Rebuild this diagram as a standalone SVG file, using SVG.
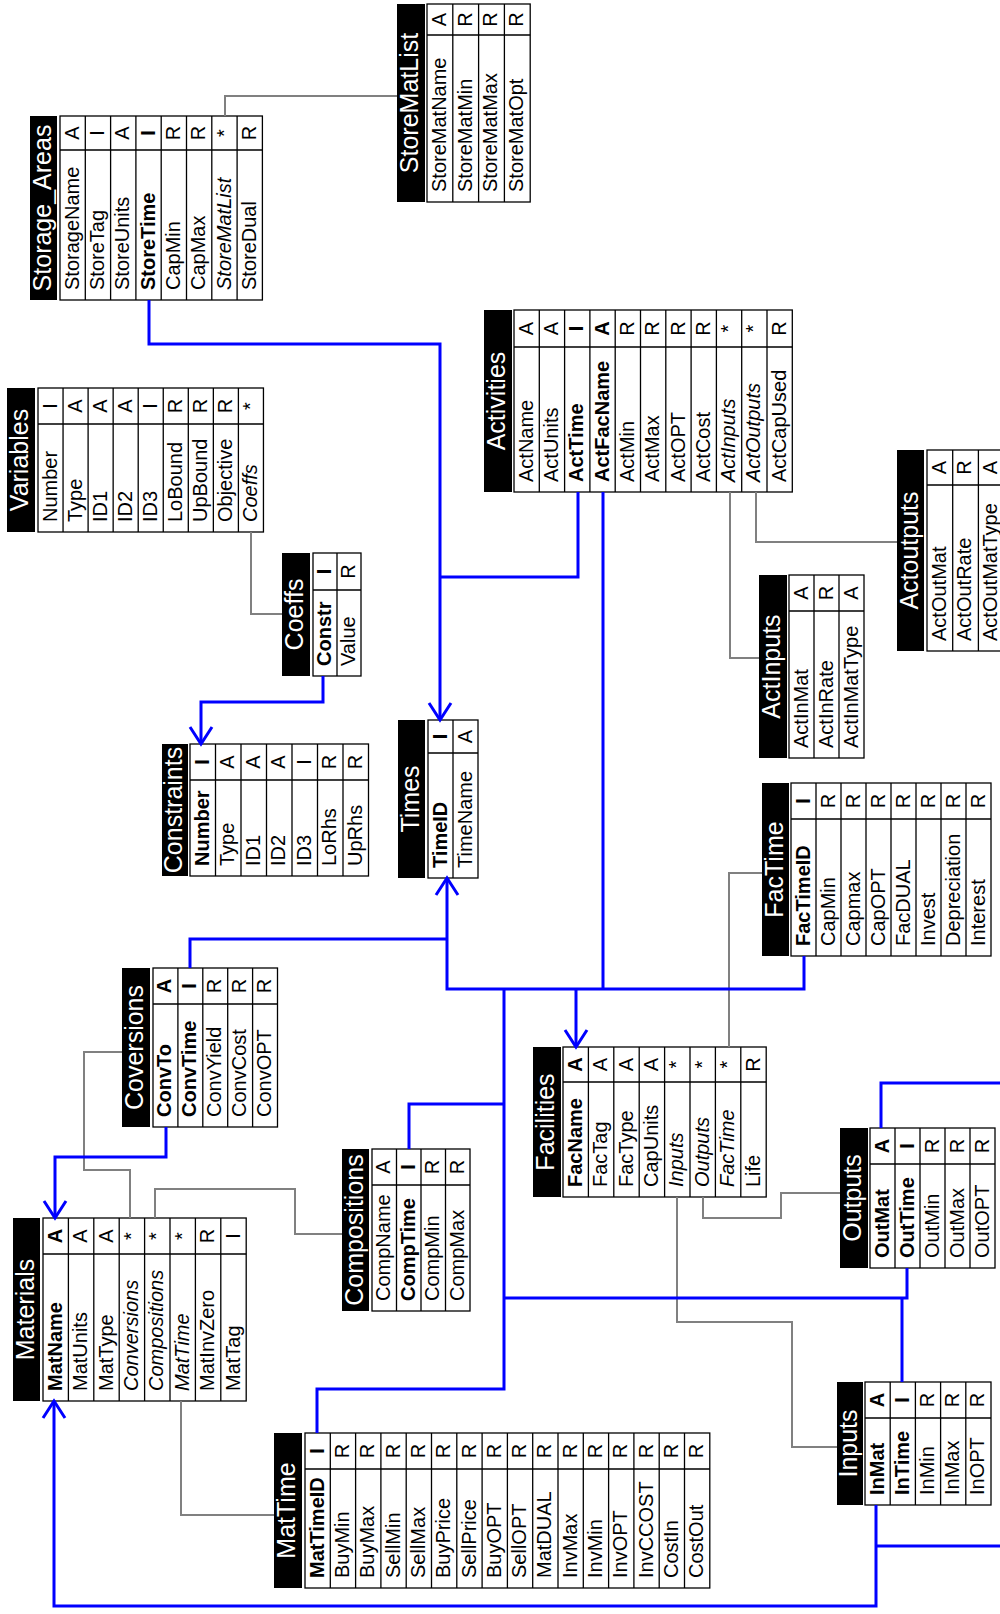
<svg xmlns="http://www.w3.org/2000/svg" width="1000" height="1614" viewBox="0 0 1000 1614">
<style>
text{font-family:"Liberation Sans",Arial,sans-serif;fill:#000}
.hd{fill:#000}
.ht{fill:#fff;font-size:25px;text-anchor:middle}
.bd{fill:#fff;stroke:#000;stroke-width:1.3}
.ln{fill:none;stroke:#000;stroke-width:1.3}
.n{font-size:20px}
.t{font-size:20px;text-anchor:middle}
.k{font-weight:bold}
.i{font-style:italic}
.bl{fill:none;stroke:#0000ff;stroke-width:3}
.gr{fill:none;stroke:#808080;stroke-width:2}
</style>
<defs>
<marker id="ah" viewBox="-20 -13 23 26" refX="0" refY="0" markerWidth="23" markerHeight="26" markerUnits="userSpaceOnUse" orient="auto-start-reverse"><path d="M-17,-11 L0,0 L-17,11" fill="none" stroke="#0000ff" stroke-width="3"/></marker>
</defs>
<rect width="1000" height="1614" fill="#fff"/>

<g id="storage_areas" transform="translate(30,300) rotate(-90)">
<rect class="hd" width="184" height="27"/>
<text class="ht" x="92" y="20.5">Storage_Areas</text>
<rect class="bd" y="30" width="184" height="202.4"/>
<path class="ln" d="M0,55.3H184M0,80.6H184M0,105.9H184M0,131.2H184M0,156.5H184M0,181.8H184M0,207.1H184M150,30V232.4"/>
<text class="n" x="10" y="48.7">StorageName</text><text class="t" x="167" y="48.7">A</text>
<text class="n" x="10" y="74">StoreTag</text><text class="t" x="167" y="74">I</text>
<text class="n" x="10" y="99.3">StoreUnits</text><text class="t" x="167" y="99.3">A</text>
<text class="n k" x="10" y="124.6">StoreTime</text><text class="t k" x="167" y="124.6">I</text>
<text class="n" x="10" y="149.9">CapMin</text><text class="t" x="167" y="149.9">R</text>
<text class="n" x="10" y="175.2">CapMax</text><text class="t" x="167" y="175.2">R</text>
<text class="n i" x="10" y="200.5">StoreMatList</text><text class="t" x="167" y="200.5">*</text>
<text class="n" x="10" y="225.8">StoreDual</text><text class="t" x="167" y="225.8">R</text>
</g>

<g id="storematlist" transform="translate(397,202) rotate(-90)">
<rect class="hd" width="198" height="28"/>
<text class="ht" x="99" y="21">StoreMatList</text>
<rect class="bd" y="30" width="198" height="103.2"/>
<path class="ln" d="M0,55.8H198M0,81.6H198M0,107.4H198M167,30V133.2"/>
<text class="n" x="10" y="48.7">StoreMatName</text><text class="t" x="182.5" y="48.7">A</text>
<text class="n" x="10" y="74.5">StoreMatMin</text><text class="t" x="182.5" y="74.5">R</text>
<text class="n" x="10" y="100.3">StoreMatMax</text><text class="t" x="182.5" y="100.3">R</text>
<text class="n" x="10" y="126.1">StoreMatOpt</text><text class="t" x="182.5" y="126.1">R</text>
</g>

<g id="variables" transform="translate(7,532) rotate(-90)">
<rect class="hd" width="144" height="28"/>
<text class="ht" x="72" y="21">Variables</text>
<rect class="bd" y="31" width="144" height="225.45"/>
<path class="ln" d="M0,56.05H144M0,81.1H144M0,106.15H144M0,131.2H144M0,156.25H144M0,181.3H144M0,206.35H144M0,231.4H144M108,31V256.45"/>
<text class="n" x="10" y="49.7">Number</text><text class="t" x="126" y="49.7">I</text>
<text class="n" x="10" y="74.75">Type</text><text class="t" x="126" y="74.75">A</text>
<text class="n" x="10" y="99.8">ID1</text><text class="t" x="126" y="99.8">A</text>
<text class="n" x="10" y="124.85">ID2</text><text class="t" x="126" y="124.85">A</text>
<text class="n" x="10" y="149.9">ID3</text><text class="t" x="126" y="149.9">I</text>
<text class="n" x="10" y="174.95">LoBound</text><text class="t" x="126" y="174.95">R</text>
<text class="n" x="10" y="200">UpBound</text><text class="t" x="126" y="200">R</text>
<text class="n" x="10" y="225.05">Objective</text><text class="t" x="126" y="225.05">R</text>
<text class="n i" x="10" y="250.1">Coeffs</text><text class="t" x="126" y="250.1">*</text>
</g>

<g id="coeffs" transform="translate(282,676) rotate(-90)">
<rect class="hd" width="123" height="28"/>
<text class="ht" x="61.5" y="21">Coeffs</text>
<rect class="bd" y="31" width="123" height="48"/>
<path class="ln" d="M0,55H123M86,31V79"/>
<text class="n k" x="10" y="48.8">Constr</text><text class="t k" x="104.5" y="48.8">I</text>
<text class="n" x="10" y="72.8">Value</text><text class="t" x="104.5" y="72.8">R</text>
</g>

<g id="constraints" transform="translate(162,876) rotate(-90)">
<rect class="hd" width="132" height="26"/>
<text class="ht" x="66" y="19.5">Constraints</text>
<rect class="bd" y="28" width="132" height="178.5"/>
<path class="ln" d="M0,53.5H132M0,79H132M0,104.5H132M0,130H132M0,155.5H132M0,181H132M96,28V206.5"/>
<text class="n k" x="10" y="46.9">Number</text><text class="t k" x="114" y="46.9">I</text>
<text class="n" x="10" y="72.4">Type</text><text class="t" x="114" y="72.4">A</text>
<text class="n" x="10" y="97.9">ID1</text><text class="t" x="114" y="97.9">A</text>
<text class="n" x="10" y="123.4">ID2</text><text class="t" x="114" y="123.4">A</text>
<text class="n" x="10" y="148.9">ID3</text><text class="t" x="114" y="148.9">I</text>
<text class="n" x="10" y="174.4">LoRhs</text><text class="t" x="114" y="174.4">R</text>
<text class="n" x="10" y="199.9">UpRhs</text><text class="t" x="114" y="199.9">R</text>
</g>

<g id="activities" transform="translate(484,492) rotate(-90)">
<rect class="hd" width="182" height="28"/>
<text class="ht" x="91" y="21">Activities</text>
<rect class="bd" y="30" width="182" height="278.3"/>
<path class="ln" d="M0,55.3H182M0,80.6H182M0,105.9H182M0,131.2H182M0,156.5H182M0,181.8H182M0,207.1H182M0,232.4H182M0,257.7H182M0,283H182M145,30V308.3"/>
<text class="n" x="10" y="48.7">ActName</text><text class="t" x="163.5" y="48.7">A</text>
<text class="n" x="10" y="74">ActUnits</text><text class="t" x="163.5" y="74">A</text>
<text class="n k" x="10" y="99.3">ActTime</text><text class="t k" x="163.5" y="99.3">I</text>
<text class="n k" x="10" y="124.6">ActFacName</text><text class="t k" x="163.5" y="124.6">A</text>
<text class="n" x="10" y="149.9">ActMin</text><text class="t" x="163.5" y="149.9">R</text>
<text class="n" x="10" y="175.2">ActMax</text><text class="t" x="163.5" y="175.2">R</text>
<text class="n" x="10" y="200.5">ActOPT</text><text class="t" x="163.5" y="200.5">R</text>
<text class="n" x="10" y="225.8">ActCost</text><text class="t" x="163.5" y="225.8">R</text>
<text class="n i" x="10" y="251.1">ActInputs</text><text class="t" x="163.5" y="251.1">*</text>
<text class="n i" x="10" y="276.4">ActOutputs</text><text class="t" x="163.5" y="276.4">*</text>
<text class="n" x="10" y="301.7">ActCapUsed</text><text class="t" x="163.5" y="301.7">R</text>
</g>

<g id="actinputs" transform="translate(759,758) rotate(-90)">
<rect class="hd" width="183" height="28"/>
<text class="ht" x="91.5" y="21">ActInputs</text>
<rect class="bd" y="30" width="183" height="75"/>
<path class="ln" d="M0,55H183M0,80H183M147,30V105"/>
<text class="n" x="10" y="48.5">ActInMat</text><text class="t" x="165" y="48.5">A</text>
<text class="n" x="10" y="73.5">ActInRate</text><text class="t" x="165" y="73.5">R</text>
<text class="n" x="10" y="98.5">ActInMatType</text><text class="t" x="165" y="98.5">A</text>
</g>

<g id="actoutputs" transform="translate(897,651) rotate(-90)">
<rect class="hd" width="201" height="27"/>
<text class="ht" x="100.5" y="20.5">Actoutputs</text>
<rect class="bd" y="30" width="201" height="77.1"/>
<path class="ln" d="M0,55.7H201M0,81.4H201M166,30V107.1"/>
<text class="n" x="10" y="48.7">ActOutMat</text><text class="t" x="183.5" y="48.7">A</text>
<text class="n" x="10" y="74.4">ActOutRate</text><text class="t" x="183.5" y="74.4">R</text>
<text class="n" x="10" y="100.1">ActOutMatType</text><text class="t" x="183.5" y="100.1">A</text>
</g>

<g id="times" transform="translate(398,878) rotate(-90)">
<rect class="hd" width="158" height="27"/>
<text class="ht" x="79" y="20.5">Times</text>
<rect class="bd" y="30" width="158" height="50"/>
<path class="ln" d="M0,55H158M125,30V80"/>
<text class="n k" x="10" y="48.5">TimeID</text><text class="t k" x="141.5" y="48.5">I</text>
<text class="n" x="10" y="73.5">TimeName</text><text class="t" x="141.5" y="73.5">A</text>
</g>

<g id="factime" transform="translate(762,956) rotate(-90)">
<rect class="hd" width="173" height="27"/>
<text class="ht" x="86.5" y="20.5">FacTime</text>
<rect class="bd" y="29" width="173" height="200"/>
<path class="ln" d="M0,54H173M0,79H173M0,104H173M0,129H173M0,154H173M0,179H173M0,204H173M137,29V229"/>
<text class="n k" x="10" y="47.5">FacTimeID</text><text class="t k" x="155" y="47.5">I</text>
<text class="n" x="10" y="72.5">CapMin</text><text class="t" x="155" y="72.5">R</text>
<text class="n" x="10" y="97.5">Capmax</text><text class="t" x="155" y="97.5">R</text>
<text class="n" x="10" y="122.5">CapOPT</text><text class="t" x="155" y="122.5">R</text>
<text class="n" x="10" y="147.5">FacDUAL</text><text class="t" x="155" y="147.5">R</text>
<text class="n" x="10" y="172.5">Invest</text><text class="t" x="155" y="172.5">R</text>
<text class="n" x="10" y="197.5">Depreciation</text><text class="t" x="155" y="197.5">R</text>
<text class="n" x="10" y="222.5">Interest</text><text class="t" x="155" y="222.5">R</text>
</g>

<g id="coversions" transform="translate(122,1127) rotate(-90)">
<rect class="hd" width="159" height="28"/>
<text class="ht" x="79.5" y="21">Coversions</text>
<rect class="bd" y="31" width="159" height="124.5"/>
<path class="ln" d="M0,55.9H159M0,80.8H159M0,105.7H159M0,130.6H159M123,31V155.5"/>
<text class="n k" x="10" y="49.4">ConvTo</text><text class="t k" x="141" y="49.4">A</text>
<text class="n k" x="10" y="74.3">ConvTime</text><text class="t k" x="141" y="74.3">I</text>
<text class="n" x="10" y="99.2">ConvYield</text><text class="t" x="141" y="99.2">R</text>
<text class="n" x="10" y="124.1">ConvCost</text><text class="t" x="141" y="124.1">R</text>
<text class="n" x="10" y="149">ConvOPT</text><text class="t" x="141" y="149">R</text>
</g>

<g id="compositions" transform="translate(342,1311) rotate(-90)">
<rect class="hd" width="162" height="27"/>
<text class="ht" x="81" y="20.5">Compositions</text>
<rect class="bd" y="30" width="162" height="98"/>
<path class="ln" d="M0,54.5H162M0,79H162M0,103.5H162M126,30V128"/>
<text class="n" x="10" y="48.2">CompName</text><text class="t" x="144" y="48.2">A</text>
<text class="n k" x="10" y="72.7">CompTime</text><text class="t k" x="144" y="72.7">I</text>
<text class="n" x="10" y="97.2">CompMin</text><text class="t" x="144" y="97.2">R</text>
<text class="n" x="10" y="121.7">CompMax</text><text class="t" x="144" y="121.7">R</text>
</g>

<g id="materials" transform="translate(13,1401) rotate(-90)">
<rect class="hd" width="183" height="27"/>
<text class="ht" x="91.5" y="20.5">Materials</text>
<rect class="bd" y="30" width="183" height="203.2"/>
<path class="ln" d="M0,55.4H183M0,80.8H183M0,106.2H183M0,131.6H183M0,157H183M0,182.4H183M0,207.8H183M147,30V233.2"/>
<text class="n k" x="10" y="48.8">MatName</text><text class="t k" x="165" y="48.8">A</text>
<text class="n" x="10" y="74.2">MatUnits</text><text class="t" x="165" y="74.2">A</text>
<text class="n" x="10" y="99.6">MatType</text><text class="t" x="165" y="99.6">A</text>
<text class="n i" x="10" y="125">Conversions</text><text class="t" x="165" y="125">*</text>
<text class="n i" x="10" y="150.4">Compositions</text><text class="t" x="165" y="150.4">*</text>
<text class="n i" x="10" y="175.8">MatTime</text><text class="t" x="165" y="175.8">*</text>
<text class="n" x="10" y="201.2">MatInvZero</text><text class="t" x="165" y="201.2">R</text>
<text class="n" x="10" y="226.6">MatTag</text><text class="t" x="165" y="226.6">I</text>
</g>

<g id="facilities" transform="translate(533,1197) rotate(-90)">
<rect class="hd" width="150" height="28"/>
<text class="ht" x="75" y="21">Facilities</text>
<rect class="bd" y="30" width="150" height="203.2"/>
<path class="ln" d="M0,55.4H150M0,80.8H150M0,106.2H150M0,131.6H150M0,157H150M0,182.4H150M0,207.8H150M115,30V233.2"/>
<text class="n k" x="10" y="48.8">FacName</text><text class="t k" x="132.5" y="48.8">A</text>
<text class="n" x="10" y="74.2">FacTag</text><text class="t" x="132.5" y="74.2">A</text>
<text class="n" x="10" y="99.6">FacType</text><text class="t" x="132.5" y="99.6">A</text>
<text class="n" x="10" y="125">CapUnits</text><text class="t" x="132.5" y="125">A</text>
<text class="n i" x="10" y="150.4">Inputs</text><text class="t" x="132.5" y="150.4">*</text>
<text class="n i" x="10" y="175.8">Outputs</text><text class="t" x="132.5" y="175.8">*</text>
<text class="n i" x="10" y="201.2">FacTime</text><text class="t" x="132.5" y="201.2">*</text>
<text class="n" x="10" y="226.6">Life</text><text class="t" x="132.5" y="226.6">R</text>
</g>

<g id="outputs" transform="translate(840,1268) rotate(-90)">
<rect class="hd" width="140" height="28"/>
<text class="ht" x="70" y="21">Outputs</text>
<rect class="bd" y="30" width="140" height="125"/>
<path class="ln" d="M0,55H140M0,80H140M0,105H140M0,130H140M104,30V155"/>
<text class="n k" x="10" y="48.5">OutMat</text><text class="t k" x="122" y="48.5">A</text>
<text class="n k" x="10" y="73.5">OutTime</text><text class="t k" x="122" y="73.5">I</text>
<text class="n" x="10" y="98.5">OutMin</text><text class="t" x="122" y="98.5">R</text>
<text class="n" x="10" y="123.5">OutMax</text><text class="t" x="122" y="123.5">R</text>
<text class="n" x="10" y="148.5">OutOPT</text><text class="t" x="122" y="148.5">R</text>
</g>

<g id="inputs" transform="translate(837,1505) rotate(-90)">
<rect class="hd" width="123" height="26"/>
<text class="ht" x="61.5" y="19.5">Inputs</text>
<rect class="bd" y="28" width="123" height="126"/>
<path class="ln" d="M0,53.2H123M0,78.4H123M0,103.6H123M0,128.8H123M87,28V154"/>
<text class="n k" x="10" y="46.6">InMat</text><text class="t k" x="105" y="46.6">A</text>
<text class="n k" x="10" y="71.8">InTime</text><text class="t k" x="105" y="71.8">I</text>
<text class="n" x="10" y="97">InMin</text><text class="t" x="105" y="97">R</text>
<text class="n" x="10" y="122.2">InMax</text><text class="t" x="105" y="122.2">R</text>
<text class="n" x="10" y="147.4">InOPT</text><text class="t" x="105" y="147.4">R</text>
</g>

<g id="mattime" transform="translate(274,1588) rotate(-90)">
<rect class="hd" width="155" height="28"/>
<text class="ht" x="77.5" y="21">MatTime</text>
<rect class="bd" y="31" width="155" height="404.8"/>
<path class="ln" d="M0,56.3H155M0,81.6H155M0,106.9H155M0,132.2H155M0,157.5H155M0,182.8H155M0,208.1H155M0,233.4H155M0,258.7H155M0,284H155M0,309.3H155M0,334.6H155M0,359.9H155M0,385.2H155M0,410.5H155M119,31V435.8"/>
<text class="n k" x="10" y="49.7">MatTimeID</text><text class="t k" x="137" y="49.7">I</text>
<text class="n" x="10" y="75">BuyMin</text><text class="t" x="137" y="75">R</text>
<text class="n" x="10" y="100.3">BuyMax</text><text class="t" x="137" y="100.3">R</text>
<text class="n" x="10" y="125.6">SellMin</text><text class="t" x="137" y="125.6">R</text>
<text class="n" x="10" y="150.9">SellMax</text><text class="t" x="137" y="150.9">R</text>
<text class="n" x="10" y="176.2">BuyPrice</text><text class="t" x="137" y="176.2">R</text>
<text class="n" x="10" y="201.5">SellPrice</text><text class="t" x="137" y="201.5">R</text>
<text class="n" x="10" y="226.8">BuyOPT</text><text class="t" x="137" y="226.8">R</text>
<text class="n" x="10" y="252.1">SellOPT</text><text class="t" x="137" y="252.1">R</text>
<text class="n" x="10" y="277.4">MatDUAL</text><text class="t" x="137" y="277.4">R</text>
<text class="n" x="10" y="302.7">InvMax</text><text class="t" x="137" y="302.7">R</text>
<text class="n" x="10" y="328">InvMin</text><text class="t" x="137" y="328">R</text>
<text class="n" x="10" y="353.3">InvOPT</text><text class="t" x="137" y="353.3">R</text>
<text class="n" x="10" y="378.6">InvCCOST</text><text class="t" x="137" y="378.6">R</text>
<text class="n" x="10" y="403.9">CostIn</text><text class="t" x="137" y="403.9">R</text>
<text class="n" x="10" y="429.2">CostOut</text><text class="t" x="137" y="429.2">R</text>
</g>

<g id="connectors">
<path class="gr" d="M225,116V96H397"/>
<path class="gr" d="M251,532V614H282"/>
<path class="gr" d="M730,492V658H759"/>
<path class="gr" d="M756,492V542H897"/>
<path class="gr" d="M729,1047V873H762"/>
<path class="gr" d="M703,1197V1218H781V1193H840"/>
<path class="gr" d="M677,1197V1322H792V1447H837"/>
<path class="gr" d="M130,1218V1170H84V1052H122"/>
<path class="gr" d="M155,1218V1189H295V1234H342"/>
<path class="gr" d="M181,1401V1515H274"/>
<path class="bl" d="M149,300V344H440V720" marker-end="url(#ah)"/>
<path class="bl" d="M578,492V577H440"/>
<path class="bl" d="M603,492V989"/>
<path class="bl" d="M447,878V989H804V956" marker-start="url(#ah)"/>
<path class="bl" d="M190,968V939H447"/>
<path class="bl" d="M576,989V1047" marker-end="url(#ah)"/>
<path class="bl" d="M504,989V1389H317V1433"/>
<path class="bl" d="M409,1149V1104H504"/>
<path class="bl" d="M504,1298H907V1268"/>
<path class="bl" d="M902,1298V1382"/>
<path class="bl" d="M881,1128V1083H1000"/>
<path class="bl" d="M54,1401V1606H876V1505" marker-start="url(#ah)"/>
<path class="bl" d="M876,1546H1000"/>
<path class="bl" d="M166,1127V1157H55V1218" marker-end="url(#ah)"/>
<path class="bl" d="M323,676V702H201V744" marker-end="url(#ah)"/>
</g>
</svg>
